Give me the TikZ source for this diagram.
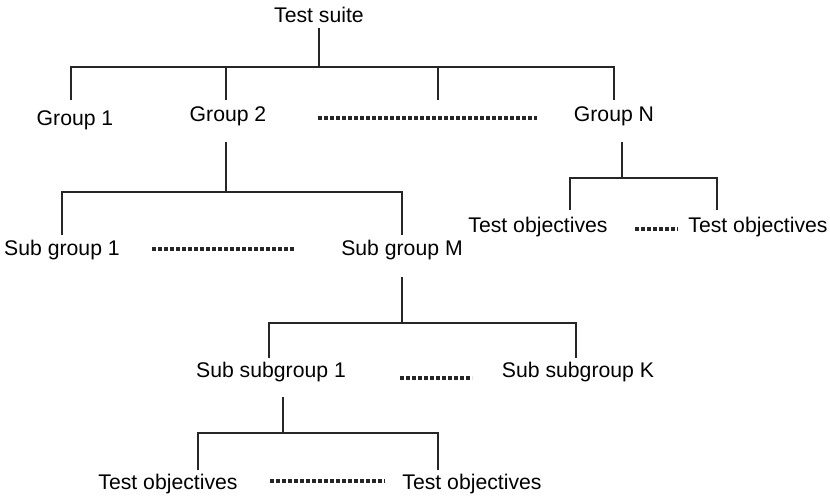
\documentclass[tikz,border=0pt]{standalone}
\usepackage{fontspec}
\setmainfont{Liberation Sans}

\tikzset{
  branch/.style={line width=1.8pt, black!85},
  gapline/.style={line width=3.5pt, black!85, dash pattern=on 4pt off 2pt},
}

\begin{document}
\begin{tikzpicture}[x=1pt, y=-1pt, every node/.style={font=\fontsize{21.2}{25}\selectfont, inner sep=0pt}]
\useasboundingbox (0,0) rectangle (830,498);

% labels
\node (suite) at (319,15)  {Test suite};
\node (g1)    at (75,120)  {Group 1};
\node (g2)    at (228,116) {Group 2};
\node (gN)    at (614,116) {Group N};
\node (sg1)   at (62,250)  {Sub group 1};
\node (sgM)   at (402,250) {Sub group M};
\node (toA)   at (538,227) {Test objectives};
\node (toB)   at (758,227) {Test objectives};
\node (ssg1)  at (271,372) {Sub subgroup 1};
\node (ssgK)  at (578,372) {Sub subgroup K};
\node (to1)   at (168,484) {Test objectives};
\node (to2)   at (472,484) {Test objectives};

% where the branches leave and reach the labels
\coordinate (suiteout) at (319,28);  \coordinate (suitebar) at (319,67);
\coordinate (g1in)  at (71,100);     \coordinate (g2in)  at (226,100);
\coordinate (midin) at (438,100);    \coordinate (gNin)  at (614,100);
\coordinate (g2out) at (226,142);    \coordinate (g2bar) at (226,192);
\coordinate (sg1in) at (62,235);     \coordinate (sgMin) at (402,235);
\coordinate (gNout) at (622,142);    \coordinate (gNbar) at (622,178);
\coordinate (toAin) at (570,210);    \coordinate (toBin) at (717,210);
\coordinate (sgMout) at (402,277);   \coordinate (sgMbar) at (402,323);
\coordinate (ssg1in) at (269,358);   \coordinate (ssgKin) at (576,358);
\coordinate (ssg1out) at (283,397);  \coordinate (ssg1bar) at (283,433);
\coordinate (to1in) at (198,470);    \coordinate (to2in) at (438,470);

% test suite -> groups
\draw[branch] (suiteout) -- (suitebar);
\draw[branch] (g1in) |- (gNin |- suitebar) -- (gNin);
\draw[branch] (g2in) -- (g2in |- suitebar);
\draw[branch] (midin) -- (midin |- suitebar);

% group 2 -> sub groups
\draw[branch] (g2out) -- (g2bar);
\draw[branch] (sg1in) |- (sgMin |- g2bar) -- (sgMin);

% group N -> test objectives
\draw[branch] (gNout) -- (gNbar);
\draw[branch] (toAin) |- (toBin |- gNbar) -- (toBin);

% sub group M -> sub subgroups
\draw[branch] (sgMout) -- (sgMbar);
\draw[branch] (ssg1in) |- (ssgKin |- sgMbar) -- (ssgKin);

% sub subgroup 1 -> test objectives
\draw[branch] (ssg1out) -- (ssg1bar);
\draw[branch] (to1in) |- (to2in |- ssg1bar) -- (to2in);

% dotted gaps between siblings
\draw[gapline] (318,118) -- (537,118);
\draw[gapline] (152,249) -- (295,249);
\draw[gapline] (635,229) -- (678,229);
\draw[gapline] (400,378) -- (472,378);
\draw[gapline] (270,481) -- (385,481);

\end{tikzpicture}
\end{document}
